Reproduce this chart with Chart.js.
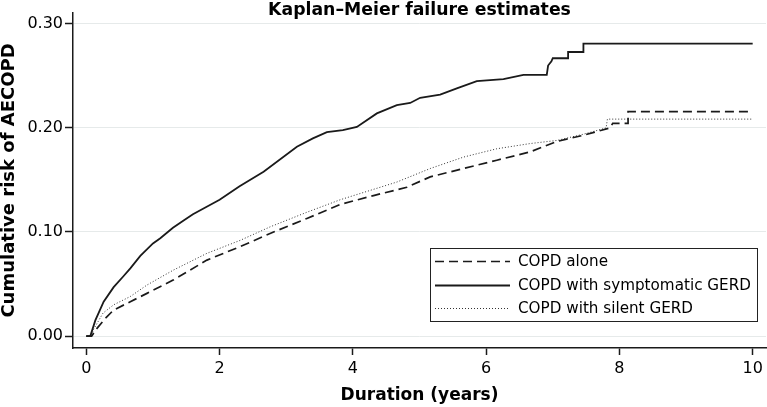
<!DOCTYPE html>
<html>
<head>
<meta charset="utf-8">
<script src="https://cdn.jsdelivr.net/npm/chart.js@4"></script>
<style>
  html, body { margin: 0; padding: 0; background: #fff; }
  #wrap { width: 767px; height: 407px; }
</style>
</head>
<body>
<div id="wrap"><canvas id="kmChart"></canvas></div>
<script>
const chartTitle = 'Kaplan–Meier failure estimates';
const xTicks = [0, 2, 4, 6, 8, 10];
const yTicks = [0, 0.1, 0.2, 0.3];

// COPD alone (dashed)
const aloneT    = [0, 0.08, 0.16, 0.3, 0.41, 0.66, 0.91, 1.31, 1.81, 2.31, 2.81, 3.31, 3.81, 4.31, 4.81, 5.16, 5.66, 6.16, 6.66, 7.06, 7.46, 7.86, 7.9, 8.13, 8.13, 10];
const aloneRisk = [0, 0, 0.0074, 0.018, 0.025, 0.033, 0.041, 0.054, 0.073, 0.086, 0.1, 0.113, 0.1265, 0.135, 0.143, 0.153, 0.161, 0.169, 0.177, 0.187, 0.193, 0.2, 0.2045, 0.2045, 0.2157, 0.2157];

// COPD with symptomatic GERD (solid)
const sympT    = [0, 0.06, 0.135, 0.26, 0.41, 0.55, 0.66, 0.81, 1.0, 1.11, 1.3, 1.46, 1.6, 1.8, 2.0, 2.3, 2.66, 3.16, 3.4, 3.61, 3.85, 4.06, 4.36, 4.66, 4.86, 5.01, 5.31, 5.56, 5.86, 6.26, 6.56, 6.91, 6.93, 6.98, 7.0, 7.23, 7.23, 7.46, 7.46, 10];
const sympRisk = [0, 0, 0.015, 0.033, 0.047, 0.057, 0.065, 0.077, 0.089, 0.094, 0.104, 0.111, 0.117, 0.124, 0.131, 0.144, 0.158, 0.182, 0.19, 0.196, 0.198, 0.201, 0.214, 0.222, 0.224, 0.229, 0.232, 0.238, 0.245, 0.247, 0.251, 0.251, 0.26, 0.264, 0.267, 0.267, 0.273, 0.273, 0.281, 0.281];

// COPD with silent GERD (dotted)
const silentT    = [0, 0.08, 0.105, 0.25, 0.41, 0.66, 0.91, 1.31, 1.81, 2.31, 2.76, 3.31, 3.81, 4.31, 4.66, 5.16, 5.66, 6.16, 6.66, 7.06, 7.46, 7.8, 7.82, 10];
const silentRisk = [0, 0, 0.006, 0.022, 0.03, 0.038, 0.049, 0.0635, 0.0795, 0.092, 0.105, 0.119, 0.131, 0.141, 0.148, 0.161, 0.172, 0.18, 0.185, 0.188, 0.194, 0.2, 0.2085, 0.2085];

const fontFamily = '"DejaVu Sans", sans-serif';
const ink = '#1a1a1a';

function toPoints(ts, vs) {
    return ts.map((t, i) => ({ x: t, y: vs[i] }));
}

// title + legend box drawn inside the plot, Stata style
const overlayPlugin = {
    id: 'overlay',
    afterDraw(chart) {
        const ctx = chart.ctx;
        const area = chart.chartArea;
        ctx.save();
        ctx.fillStyle = '#000';
        ctx.font = 'bold 17.3px ' + fontFamily;
        ctx.textAlign = 'center';
        ctx.textBaseline = 'middle';
        ctx.fillText(chartTitle, (area.left + area.right) / 2, 11);

        // legend box
        const box = { x: 430.5, y: 248.5, w: 327, h: 73 };
        ctx.fillStyle = '#fff';
        ctx.fillRect(box.x, box.y, box.w, box.h);
        ctx.strokeStyle = '#222';
        ctx.lineWidth = 1;
        ctx.strokeRect(box.x, box.y, box.w, box.h);

        const rows = [261, 285, 308];
        ctx.font = '15.2px ' + fontFamily;
        ctx.textAlign = 'left';
        chart.data.datasets.forEach((ds, i) => {
            const y = rows[i];
            ctx.beginPath();
            ctx.setLineDash(ds.borderDash || []);
            ctx.lineWidth = ds.borderWidth;
            ctx.strokeStyle = ds.borderColor;
            ctx.moveTo(435, y + 0.5);
            ctx.lineTo(510, y + 0.5);
            ctx.stroke();
            ctx.setLineDash([]);
            ctx.fillStyle = '#000';
            ctx.fillText(ds.label, 518, y + 1);
        });
        ctx.restore();
    }
};

new Chart(document.getElementById('kmChart'), {
    type: 'line',
    data: {
        datasets: [
            {
                label: 'COPD alone',
                data: toPoints(aloneT, aloneRisk),
                borderColor: ink,
                borderWidth: 1.7,
                borderDash: [9, 5],
                pointRadius: 0,
                fill: false,
                tension: 0
            },
            {
                label: 'COPD with symptomatic GERD',
                data: toPoints(sympT, sympRisk),
                borderColor: ink,
                borderWidth: 1.8,
                pointRadius: 0,
                fill: false,
                tension: 0
            },
            {
                label: 'COPD with silent GERD',
                data: toPoints(silentT, silentRisk),
                borderColor: '#333',
                borderWidth: 1,
                borderDash: [1, 2],
                pointRadius: 0,
                fill: false,
                tension: 0
            }
        ]
    },
    options: {
        responsive: true,
        maintainAspectRatio: false,
        animation: false,
        layout: { padding: { left: 0, right: 1, top: 13, bottom: 0 } },
        plugins: {
            legend: { display: false },
            title: { display: false },
            tooltip: { enabled: false }
        },
        scales: {
            x: {
                type: 'linear',
                min: -0.2,
                max: 10.2,
                afterBuildTicks: s => { s.ticks = xTicks.map(v => ({ value: v })); },
                afterFit: s => { s.height = 59; },
                border: { display: true, color: ink, width: 1.5 },
                grid: { drawOnChartArea: false, drawTicks: true, tickLength: 7, tickColor: ink, tickWidth: 1.5 },
                ticks: {
                    color: '#000',
                    padding: 4,
                    maxRotation: 0,
                    font: { family: fontFamily, size: 16 },
                    callback: v => String(v)
                },
                title: {
                    display: true,
                    text: 'Duration (years)',
                    color: '#000',
                    font: { family: fontFamily, size: 17, weight: 'bold', lineHeight: 1 },
                    padding: { top: 0, bottom: 3 }
                }
            },
            y: {
                min: -0.0115,
                max: 0.3105,
                afterBuildTicks: s => { s.ticks = yTicks.map(v => ({ value: v })); },
                afterFit: s => { s.width = 73; },
                border: { display: true, color: ink, width: 1.5 },
                grid: { color: '#e6eaea', lineWidth: 1, tickLength: 8, tickColor: ink, tickWidth: 1.5 },
                ticks: {
                    color: '#000',
                    padding: 2,
                    font: { family: fontFamily, size: 16 },
                    callback: v => v.toFixed(2)
                },
                title: {
                    display: true,
                    text: 'Cumulative risk of AECOPD',
                    color: '#000',
                    font: { family: fontFamily, size: 18, weight: 'bold', lineHeight: 1 },
                    padding: { top: 0, bottom: 0 }
                }
            }
        }
    },
    plugins: [overlayPlugin]
});
</script>
</body>
</html>
